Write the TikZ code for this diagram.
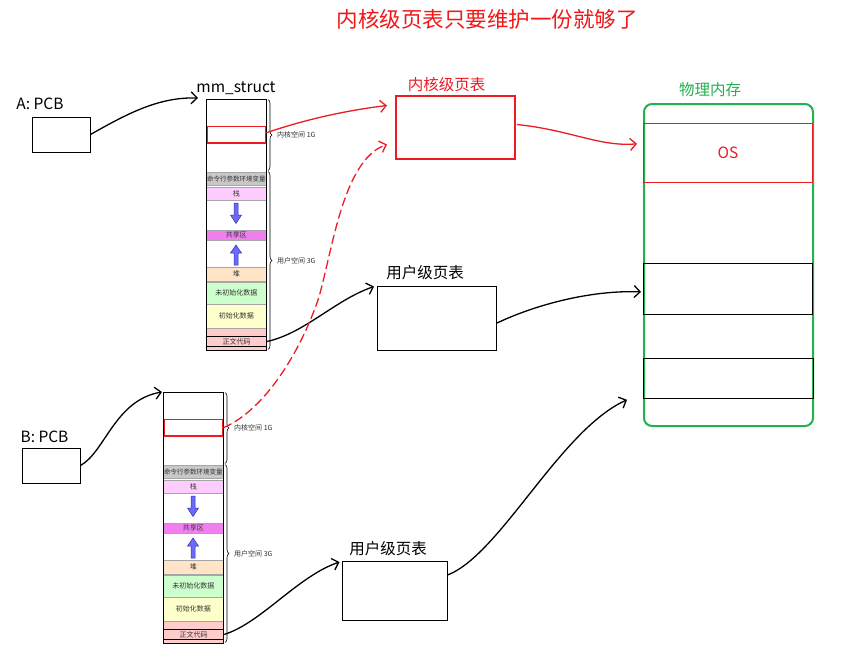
\documentclass[tikz,border=0pt]{standalone}
\usepackage{fontspec}
\setmainfont{Noto Sans CJK SC}
\usetikzlibrary{arrows.meta,decorations.pathreplacing,calc}
\definecolor{pred}{HTML}{ED1C24}
\definecolor{tred}{HTML}{F01818}
\definecolor{pgreen}{HTML}{22B14C}
\definecolor{cgray}{HTML}{C8C8C8}
\definecolor{cstack}{HTML}{FFCCFF}
\definecolor{cshare}{HTML}{F080F0}
\definecolor{cheap}{HTML}{FFE4C8}
\definecolor{cbss}{HTML}{CCFFCC}
\definecolor{cdata}{HTML}{FFFFCC}
\definecolor{ctext}{HTML}{FFCCCC}
\definecolor{carrow}{HTML}{6A6AFF}
\definecolor{carrowd}{HTML}{3030A0}
\tikzset{
  cell/.style={draw=gray!70, line width=0.6pt, minimum width=60pt, inner sep=0pt,
    anchor=north west, font=\fontsize{7}{7.5}\selectfont, text=black!80},
  blockarrow/.style={fill=carrow, draw=carrowd, line width=0.5pt},
  bracestyle/.style={decorate, decoration={brace, amplitude=4pt}, line width=0.6pt},
  smalllbl/.style={anchor=west, font=\fontsize{7}{7.5}\selectfont, text=black!80, inner sep=0pt},
  lbl/.style={font=\fontsize{15.5}{17}\selectfont, inner sep=0pt},
  box/.style={draw, line width=1pt, inner sep=0pt},
  membox/.style={line width=1pt, inner sep=0pt, minimum width=169pt, anchor=north west},
  conn/.style={line width=1.3pt, -{Straight Barb[length=6pt,width=12pt]}},
}
\newcommand{\memcol}[3]{%
\begin{scope}[shift={(#1,#2)}]
  \node[cell,fill=cgray,minimum height=13.5pt,font=\fontsize{6.5}{7}\selectfont] (#3cmd) at (0,72.5) {命令行参数环境变量};
  \node[cell,fill=cstack,minimum height=13.5pt] (#3stk) at (0,87.5) {栈};
  \node[cell,fill=cshare,minimum height=10pt] (#3shr) at (0,131) {共享区};
  \node[cell,fill=cheap,minimum height=14pt] (#3heap) at (0,167.5) {堆};
  \node[cell,fill=cbss,minimum height=22.7pt] (#3bss) at (0,182.5) {未初始化数据};
  \node[cell,fill=cdata,minimum height=23.3pt] (#3data) at (0,205.2) {初始化数据};
  \node[cell,fill=ctext,minimum height=22.5pt] (#3pink) at (0,228.5) {};
  \node[cell,fill=ctext,draw=black,line width=1.2pt,minimum height=9.7pt] (#3text) at (0,237) {正文代码};
  \node[draw=pred,line width=1.5pt,minimum width=58pt,minimum height=16.6pt,inner sep=0pt,anchor=north west] (#3k) at (0.8,26.7) {};
  \node[draw=black,line width=0.8pt,minimum width=60pt,minimum height=251pt,inner sep=0pt,anchor=north west] (#3frame) at (0,0) {};
  \draw[blockarrow] (28,104) -- (32,104) -- (32,116) -- (35.5,116) -- (30,124.5) -- (24.5,116) -- (28,116) -- cycle;
  \draw[blockarrow] (28,166) -- (32,166) -- (32,154) -- (35.5,154) -- (30,146) -- (24.5,154) -- (28,154) -- cycle;
  \draw[bracestyle] (62,0.5) -- (62,71.5);
  \node[smalllbl] (#3kl) at (71,36) {内核空间 1G};
  \draw[bracestyle] (62,72.5) -- (62,250.5);
  \node[smalllbl] (#3ul) at (71,161.5) {用户空间 3G};
\end{scope}}
\begin{document}
\begin{tikzpicture}[x=1pt,y=-1pt]
\useasboundingbox[fill=white] (0,0) rectangle (846,667);

% title
\node[font=\fontsize{21.5}{23}\selectfont, text=tred, inner sep=0pt] (title) at (487,19) {内核级页表只要维护一份就够了};

% columns
\memcol{206}{99}{A}
\memcol{163}{392}{B}
\node[lbl] (mm) at (236,88) {mm\_struct};

% PCBs
\node[lbl] (pcbAl) at (40,104) {A: PCB};
\node[box, minimum width=58pt, minimum height=35pt] (pcbA) at (61,134.5) {};
\node[lbl] (pcbBl) at (44.5,437) {B: PCB};
\node[box, minimum width=58pt, minimum height=35pt] (pcbB) at (51,465.5) {};

% kernel page table
\node[lbl, text=pred] (Kl) at (446.5,85) {内核级页表};
\node[draw=pred, line width=2pt, minimum width=119pt, minimum height=63pt, inner sep=0pt] (K) at (455.5,127.5) {};

% user page tables
\node[lbl] (uAl) at (425,273) {用户级页表};
\node[box, minimum width=119pt, minimum height=64pt] (uA) at (437,318) {};
\node[lbl] (uBl) at (388,549) {用户级页表};
\node[box, minimum width=105pt, minimum height=59pt] (uB) at (394.5,590.5) {};

% physical memory
\node[lbl, text=pgreen] (physl) at (710,90) {物理内存};
\node[draw=pgreen, line width=2pt, rounded corners=8pt, minimum width=169pt, minimum height=322pt, inner sep=0pt, anchor=north west] (phys) at (643,103) {};
\node[membox, draw=pred, minimum height=59pt] (os) at (643,123.3) {};
\node[text=pred, font=\fontsize{15.5}{17}\selectfont, inner sep=0pt] (osl) at (728,153) {OS};
\node[membox, draw=black, minimum height=51.3pt] (p1) at (643,262.7) {};
\node[membox, draw=black, minimum height=40pt, minimum width=170pt] (p2) at (643,357.7) {};

% connectors
\draw[conn] (pcbA.east) .. controls (130,112) and (160,97) .. ($(Aframe.north west)+(-8,-1)$);
\draw[conn] (pcbB.east) .. controls (105,452) and (115,400) .. ($(Bframe.north west)+(-1,0)$);
\draw[conn] (Atext.east) .. controls (305,333) and (335,300) .. ($(uA.north west)+(-3,1)$);
\draw[conn] (Btext.east) .. controls (261,623) and (298,576) .. ($(uB.north west)+(-2,1.5)$);
\draw[conn] ($(uA.east)+(0,5)$) .. controls (535,305) and (590,290) .. ($(p1.west)+(-2,3)$);
\draw[conn] ($(uB.east)+(0,-15.5)$) .. controls (500,555) and (560,430) .. ($(p2.west)+(-16,21.6)$);
\draw[conn, draw=pred] ($(Ak.east)+(0,-2)$) .. controls (310,118) and (350,110) .. ($(K.west)+(-8,-22)$);
\draw[conn, draw=pred] ($(K.east)+(1,-3)$) .. controls (570,130) and (600,147) .. ($(os.west)+(-6,-9.5)$);
\draw[conn, draw=pred, dash pattern=on 9pt off 4pt] (Bk.east) .. controls (265,410) and (300,352) .. (318,300) .. controls (332,255) and (342,160) .. ($(K.west)+(-8,17)$);
\end{tikzpicture}
\end{document}
